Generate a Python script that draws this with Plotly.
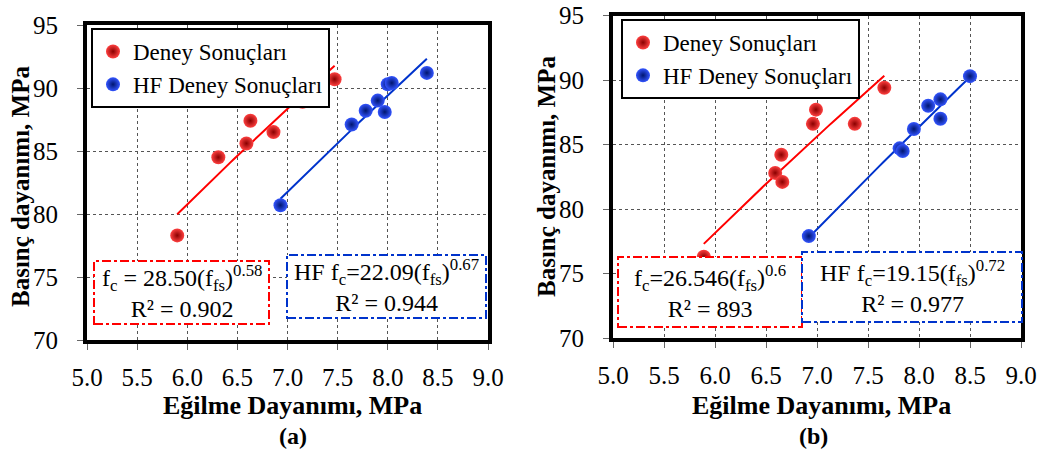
import numpy as np
import plotly.graph_objects as go

# Eğilme (x) ve basınç (y) dayanımı ölçümleri, MPa
a_deney_x = [5.90, 6.31, 6.59, 6.63, 6.86, 7.04, 7.15, 7.47]
a_deney_y = [78.3, 84.5, 85.6, 87.4, 86.5, 89.4, 88.9, 90.7]
a_hf_x = [6.93, 7.64, 7.78, 7.90, 7.97, 8.00, 8.04, 8.39]
a_hf_y = [80.7, 87.1, 88.2, 89.0, 88.1, 90.3, 90.4, 91.2]

b_deney_x = [5.89, 6.59, 6.65, 6.66, 6.96, 6.99, 7.37, 7.66]
b_deney_y = [76.3, 82.8, 84.2, 82.1, 86.6, 87.7, 86.6, 89.4]
b_hf_x = [6.92, 7.81, 7.84, 7.95, 8.09, 8.21, 8.21, 8.50]
b_hf_y = [77.9, 84.7, 84.5, 86.2, 88.0, 88.5, 87.0, 90.3]

legend_names = ["Deney Sonuçları", "HF Deney Sonuçları"]
x_ticks = [5.0, 5.5, 6.0, 6.5, 7.0, 7.5, 8.0, 8.5, 9.0]
y_ticks = [70, 75, 80, 85, 90, 95]

eq_a_red = "f<sub>c</sub> = 28.50(f<sub>fs</sub>)<sup>0.58</sup><br>R² = 0.902"
eq_a_blue = "HF f<sub>c</sub>=22.09(f<sub>fs</sub>)<sup>0.67</sup><br>R² = 0.944"
eq_b_red = "f<sub>c</sub>=26.546(f<sub>fs</sub>)<sup>0.6</sup><br>R² = 893"
eq_b_blue = "HF f<sub>c</sub>=19.15(f<sub>fs</sub>)<sup>0.72</sup><br>R² = 0.977"

W, H = 1044, 450
FONT = "Liberation Serif"
RED, RED_EDGE, RED_LINE = "#ff4040", "#8a0000", "#ff0000"
BLUE, BLUE_EDGE, BLUE_LINE = "#3355ff", "#001670", "#0033cc"


def power_fit(x, y):
    # Power trendline y = a * x^b fitted in log-log space
    b, ln_a = np.polyfit(np.log(x), np.log(y), 1)
    xs = np.linspace(min(x), max(x), 40)
    return xs, np.exp(ln_a) * xs ** b


def px(v):
    return v / W


def py(v):
    return 1 - v / H


fig = go.Figure()

panels = [
    ("x", "y", "legend", a_deney_x, a_deney_y, a_hf_x, a_hf_y),
    ("x2", "y2", "legend2", b_deney_x, b_deney_y, b_hf_x, b_hf_y),
]
for xa, ya, leg, rx, ry, bx, by in panels:
    for xs, ys, lc in [(rx, ry, RED_LINE), (bx, by, BLUE_LINE)]:
        fx, fy = power_fit(xs, ys)
        fig.add_trace(go.Scatter(x=fx, y=fy, mode="lines", xaxis=xa, yaxis=ya,
                                 line=dict(color=lc, width=2), showlegend=False,
                                 hoverinfo="skip"))
    for xs, ys, name, c, edge in [
        (rx, ry, legend_names[0], RED, RED_EDGE),
        (bx, by, legend_names[1], BLUE, BLUE_EDGE),
    ]:
        fig.add_trace(go.Scatter(x=xs, y=ys, mode="markers", name=name,
                                 xaxis=xa, yaxis=ya, legend=leg,
                                 marker=dict(size=14, color=c,
                                             gradient=dict(type="radial", color=edge),
                                             line=dict(width=0))))

axis_common = dict(
    showline=True, linewidth=4, linecolor="black", mirror=True,
    showgrid=True, gridcolor="#555555", gridwidth=1, griddash="dot",
    ticks="outside", ticklen=6, tickcolor="#666666", tickwidth=1,
    tickfont=dict(family=FONT, size=25, color="black"), zeroline=False,
    automargin=False,
)

legend_common = dict(
    xanchor="left", yanchor="top", bgcolor="white", bordercolor="black",
    borderwidth=2, font=dict(family=FONT, size=23), tracegroupgap=0,
    itemwidth=30,
)

fig.update_layout(
    width=W, height=H, margin=dict(l=0, r=0, t=0, b=0, autoexpand=False),
    paper_bgcolor="white", plot_bgcolor="white",
    font=dict(family=FONT, color="black"),
    xaxis=dict(domain=[px(87), px(488)], range=[5, 9], tickvals=x_ticks,
               ticktext=[f"{v:.1f}" for v in x_ticks], anchor="y",
               ticklabelstandoff=6, **axis_common),
    yaxis=dict(domain=[py(340), py(25)], range=[70, 95], tickvals=y_ticks,
               anchor="x", ticklabelstandoff=14, **axis_common),
    xaxis2=dict(domain=[px(613), px(1021)], range=[5, 9], tickvals=x_ticks,
                ticktext=[f"{v:.1f}" for v in x_ticks], anchor="y2",
                ticklabelstandoff=6, **axis_common),
    yaxis2=dict(domain=[py(338), py(15.5)], range=[70, 95], tickvals=y_ticks,
                anchor="x2", ticklabelstandoff=14, **axis_common),
    legend=dict(x=px(91), y=py(28), **legend_common),
    legend2=dict(x=px(621), y=py(19), **legend_common),
)

# Equation boxes: white fill with dash-dot frames
boxes = [
    (94, 261, 269, 324, RED_LINE, eq_a_red),
    (287, 255, 486, 318, BLUE_LINE, eq_a_blue),
    (618, 257, 802, 327, RED_LINE, eq_b_red),
    (802, 252, 1022, 322, BLUE_LINE, eq_b_blue),
]
for x0, y0, x1, y1, col, txt in boxes:
    fig.add_shape(type="rect", xref="paper", yref="paper",
                  x0=px(x0), x1=px(x1), y0=py(y1), y1=py(y0),
                  fillcolor="white", layer="above",
                  line=dict(color=col, width=2, dash="dashdot"))
    fig.add_annotation(xref="paper", yref="paper",
                       x=px((x0 + x1) / 2), y=py((y0 + y1) / 2 - 1),
                       xanchor="center", yanchor="middle",
                       text=txt, showarrow=False, align="center",
                       font=dict(family=FONT, size=24, color="black"))

# Axis titles and panel labels
titles = [
    (292, 405, 0, 26, "Eğilme Dayanımı, MPa"),
    (821, 405, 0, 26, "Eğilme Dayanımı, MPa"),
    (20, 187, -90, 25, "Basınç dayanımı, MPa"),
    (546, 177, -90, 25, "Basınç dayanımı, MPa"),
    (293, 436, 0, 24, "(a)"),
    (813, 436, 0, 24, "(b)"),
]
for x, y, ang, size, txt in titles:
    fig.add_annotation(xref="paper", yref="paper", x=px(x), y=py(y),
                       xanchor="center", yanchor="middle",
                       text=f"<b>{txt}</b>", showarrow=False, textangle=ang,
                       font=dict(family=FONT, size=size, color="black"))

fig.write_html("out.html")
